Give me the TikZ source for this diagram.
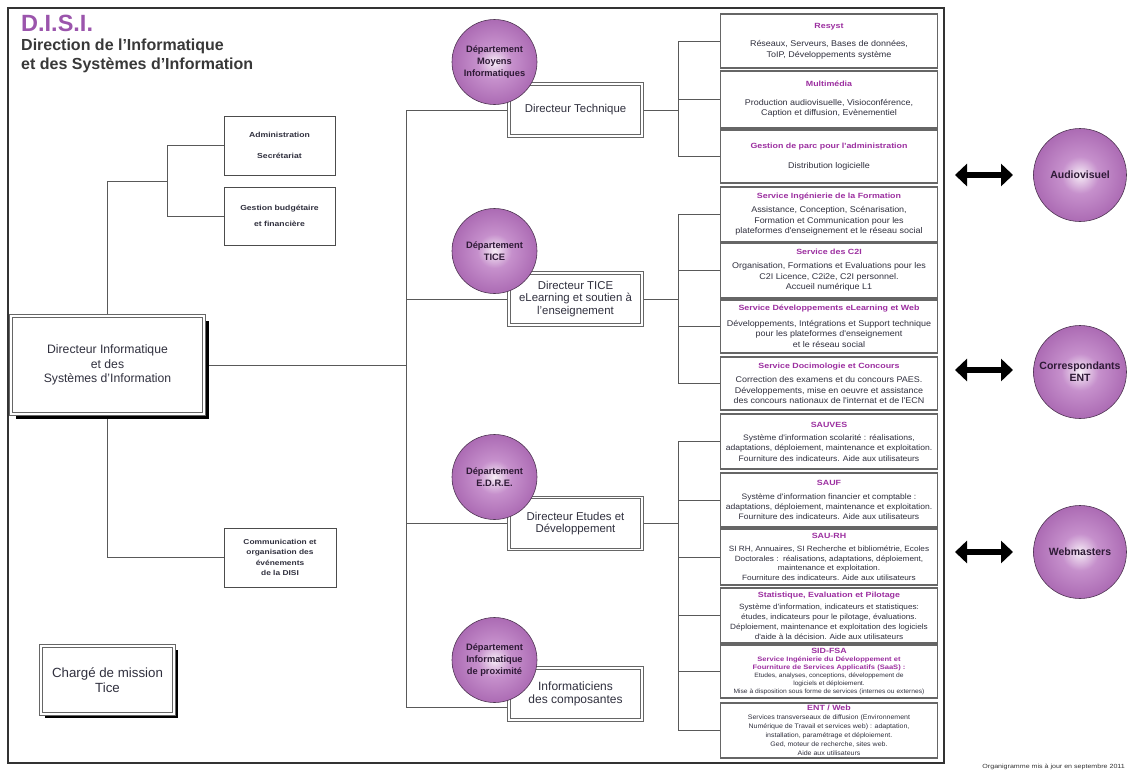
\documentclass[tikz,border=0pt]{standalone}
\usepackage{fontspec}
\setmainfont{Liberation Sans}
\newfontfamily\mywide[FakeStretch=1.18]{Liberation Sans}
\newfontfamily\mybody[FakeStretch=1.08]{Liberation Sans}
\usetikzlibrary{arrows.meta,shadows,backgrounds}
\definecolor{ptitle}{HTML}{9C2FA0}
\definecolor{pdisi}{HTML}{9B55AC}
\definecolor{txt}{HTML}{30303E}
\definecolor{circout}{HTML}{9C55A5}
\definecolor{circmid}{HTML}{C690CC}
\definecolor{circin}{HTML}{F6ECF6}
\definecolor{circedge}{HTML}{4E3452}
\definecolor{circtxt}{HTML}{2E1A36}
\pgfdeclareradialshading{deptshade}{\pgfpoint{0bp}{0bp}}{color(0bp)=(circin); color(10bp)=(circmid); color(34bp)=(circout); color(50bp)=(circout)}
\newcommand\btitle[1]{{\mywide\bfseries\fontsize{7.5}{10.5}\selectfont\color{ptitle}#1}}
\newcommand\sidt[1]{{\mywide\bfseries\fontsize{6.4}{8}\selectfont\color{ptitle}#1}}
\begin{document}
\begin{tikzpicture}[x=1pt,y=-1pt,
  rbox/.style={draw=black!60,line width=1.3pt,fill=white,minimum width=217pt,inner sep=0pt,align=center,text=txt,font=\mybody\fontsize{8.3}{10.5}\selectfont},
  lbox/.style={draw=black!70,line width=0.9pt,fill=white,minimum width=111pt,inner sep=0pt,align=center,text=txt,font=\mywide\bfseries\fontsize{7.3}{9.5}\selectfont},
  dbox/.style={draw=black!60,double=white,double distance=1.8pt,line width=0.8pt,fill=white,minimum width=133pt,minimum height=52pt,inner sep=0pt,align=center,text=txt,font=\fontsize{11.4}{12.8}\selectfont},
  dept/.style={circle,draw=circedge,line width=0.6pt,shade,shading=deptshade,minimum size=85pt,inner sep=0pt,align=center,text=circtxt,font=\bfseries\fontsize{9.3}{12}\selectfont},
  ext/.style={dept,minimum size=93pt,font=\bfseries\fontsize{10.5}{12}\selectfont},
  link/.style={draw=black!65,line width=1pt},
  dblarrow/.style={line width=6.5pt,{Triangle[width=22pt,length=12pt]}-{Triangle[width=22pt,length=12pt]}},
  bshadow/.style={drop shadow={shadow xshift=#1,shadow yshift=-#1,fill=black,opacity=1}},
  bshadow/.default=5pt
]
\useasboundingbox (0,0) rectangle (1127,771);

% ---- titles
\node[anchor=base west,text=pdisi,font=\bfseries\fontsize{23.5}{24}\selectfont,inner sep=0pt] (disi) at (21,31) {D.I.S.I.};
\node[anchor=base west,text=black!78,font=\bfseries\fontsize{16}{18}\selectfont,inner sep=0pt] (titleA) at (21,50.5) {Direction de l'Informatique};
\node[anchor=base west,text=black!78,font=\bfseries\fontsize{16}{18}\selectfont,inner sep=0pt] (titleB) at (21,69) {et des Systèmes d'Information};

% ---- left column
\node[lbox,minimum height=59pt] (admin) at (279.5,145.5) {Administration\\[11pt]Secrétariat};
\node[lbox,minimum height=58pt] (gest) at (279.5,216) {Gestion budgétaire\\[6pt]et financière};
\node[lbox,minimum width=112pt,minimum height=59pt,font=\mywide\bfseries\fontsize{7.1}{10.5}\selectfont] (comm) at (280,557.5) {Communication et\\organisation des\\événements\\de la DISI};
\node[dbox,bshadow,minimum width=193pt,minimum height=98pt,font=\fontsize{12.2}{14.5}\selectfont] (dmain) at (107.5,365) {Directeur Informatique\\et des\\Systèmes d'Information};
\node[dbox,bshadow=4pt,minimum width=133pt,minimum height=68pt,font=\fontsize{13.3}{15}\selectfont] (charge) at (107.5,680) {Chargé de mission\\Tice};

% ---- directors
\node[dbox] (dt) at (575.5,110) {Directeur Technique};
\node[dbox] (dtice) at (575.5,299) {Directeur TICE\\eLearning et soutien à\\l'enseignement};
\node[dbox] (ded) at (575.5,523.5) {Directeur Etudes et\\Développement};
\node[dbox,font=\fontsize{12}{13.5}\selectfont] (dic) at (575.5,694) {Informaticiens\\des composantes};

% ---- department circles
\node[dept] (cdt) at (494.5,62) {Département\\Moyens\\Informatiques};
\node[dept] (ctice) at (494.5,251) {Département\\TICE};
\node[dept] (cded) at (494.5,477) {Département\\E.D.R.E.};
\node[dept] (cdip) at (494.5,660) {Département\\Informatique\\de proximité};

% ---- service boxes
\node[rbox,minimum height=54pt] (r1) at (829,41) {\btitle{Resyst}\\[8pt]Réseaux, Serveurs, Bases de données,\\ToIP, Développements système};
\node[rbox,minimum height=57pt] (r2) at (829,99.5) {\btitle{Multimédia}\\[8pt]Production audiovisuelle, Visioconférence,\\Caption et diffusion, Evènementiel};
\node[rbox,minimum height=53pt] (r3) at (829,156.5) {\btitle{Gestion de parc pour l'administration}\\[10pt]Distribution logicielle};
\node[rbox,minimum height=55pt] (r4) at (829,214.5) {\btitle{Service Ingénierie de la Formation}\\[3.5pt]Assistance, Conception, Scénarisation,\\Formation et Communication pour les\\plateformes d'enseignement et le réseau social};
\node[rbox,minimum height=55pt] (r5) at (829,270.5) {\btitle{Service des C2I}\\[3.5pt]Organisation, Formations et Evaluations pour les\\C2I Licence, C2i2e, C2I personnel.\\Accueil numérique L1};
\node[rbox,minimum height=53pt] (r6) at (829,326.5) {\btitle{Service Développements eLearning et Web}\\[5pt]Développements, Intégrations et Support technique\\pour les plateformes d'enseignement\\et le réseau social};
\node[rbox,minimum height=53pt] (r7) at (829,383.5) {\btitle{Service Docimologie et Concours}\\[3.5pt]Correction des examens et du concours PAES.\\Développements, mise en oeuvre et assistance\\des concours nationaux de l'internat et de l'ECN};
\node[rbox,minimum height=55pt,font=\mybody\fontsize{7.9}{10.2}\selectfont] (r8) at (829,441.5) {\btitle{SAUVES}\\[3.5pt]Système d'information scolarité : réalisations,\\adaptations, déploiement, maintenance et exploitation.\\Fourniture des indicateurs. Aide aux utilisateurs};
\node[rbox,minimum height=54pt,font=\mybody\fontsize{7.9}{10.2}\selectfont] (r9) at (829,500) {\btitle{SAUF}\\[3.5pt]Système d'information financier et comptable :\\adaptations, déploiement, maintenance et exploitation.\\Fourniture des indicateurs. Aide aux utilisateurs};
\node[rbox,minimum height=56pt,font=\mybody\fontsize{7.6}{9.6}\selectfont] (r10) at (829,557) {\btitle{SAU-RH}\\[3pt]SI RH, Annuaires, SI Recherche et bibliométrie, Ecoles\\Doctorales :\ \ réalisations, adaptations, déploiement,\\maintenance et exploitation.\\Fourniture des indicateurs. Aide aux utilisateurs};
\node[rbox,minimum height=55pt,font=\mybody\fontsize{7.6}{9.7}\selectfont] (r11) at (829,615.5) {\btitle{Statistique, Evaluation et Pilotage}\\[3pt]Système d'information, indicateurs et statistiques:\\études, indicateurs pour le pilotage, évaluations.\\Déploiement, maintenance et exploitation des logiciels\\d'aide à la décision. Aide aux utilisateurs};
\node[rbox,minimum height=53pt,font=\mybody\fontsize{6.2}{7.9}\selectfont] (r12) at (829,671.5) {\btitle{SID-FSA}\\\sidt{Service Ingénierie du Développement et}\\\sidt{Fourniture de Services Applicatifs (SaaS) :}\\Etudes, analyses, conceptions, développement de\\logiciels et déploiement.\\Mise à disposition sous forme de services (internes ou externes)};
\node[rbox,minimum height=55pt,font=\mybody\fontsize{6.5}{8.9}\selectfont] (r13) at (829,730.5) {\btitle{ENT / Web}\\Services transverseaux de diffusion (Environnement\\Numérique de Travail et services web) : adaptation,\\installation, paramétrage et déploiement.\\Ged, moteur de recherche, sites web.\\Aide aux utilisateurs};

% ---- external circles
\node[ext] (aud) at (1080,175) {Audiovisuel};
\node[ext] (cent) at (1080,372) {Correspondants\\ENT};
\node[ext] (web) at (1080,552) {Webmasters};

\node[anchor=base east,font=\mywide\fontsize{6}{6}\selectfont,text=black!80,inner sep=0pt] (foot) at (1125,768) {Organigramme mis à jour en septembre 2011};

% ---- arrows
\coordinate (a1l) at (955,175); \coordinate (a1r) at (1013,175);
\coordinate (a2l) at (955,370); \coordinate (a2r) at (1013,370);
\coordinate (a3l) at (955,552); \coordinate (a3r) at (1013,552);
\draw[dblarrow] (a1l) -- (a1r);
\draw[dblarrow] (a2l) -- (a2r);
\draw[dblarrow] (a3l) -- (a3r);

% ---- background: frame and connectors
\begin{scope}[on background layer]
\draw[line width=1.8pt,black!80] (8,8) rectangle (944,763);
\coordinate (lj) at (167,181);
\coordinate (tx) at (406,0);
\coordinate (tbot) at (406,707);
\coordinate (bx) at (678,0);
% left
\draw[link] (dmain.north) |- (lj);
\draw[link] (admin.west -| lj) -- (gest.west -| lj);
\draw[link] (admin.west -| lj) -- (admin.west);
\draw[link] (gest.west -| lj) -- (gest.west);
\draw[link] (dmain.south) |- (comm.west);
% trunk
\draw[link] (dmain.east) -- (dmain.east -| tx);
\draw[link] (dt.west) -- (dt.west -| tx) -- (tbot) -- (tbot -| dic.west);
\draw[link] (dtice.west) -- (dtice.west -| tx);
\draw[link] (ded.west) -- (ded.west -| tx);
% right branches
\draw[link] (dt.east) -- (dt.east -| bx);
\draw[link] (r1.west -| bx) -- (r3.west -| bx);
\draw[link] (dtice.east) -- (dtice.east -| bx);
\draw[link] (r4.west -| bx) -- (r7.west -| bx);
\draw[link] (ded.east) -- (ded.east -| bx);
\draw[link] (r8.west -| bx) -- (r13.west -| bx);
\foreach \r in {r1,r2,r3,r4,r5,r6,r7,r8,r9,r10,r11,r12,r13}
  \draw[link] (\r.west -| bx) -- (\r.west);
\end{scope}
\end{tikzpicture}
\end{document}
